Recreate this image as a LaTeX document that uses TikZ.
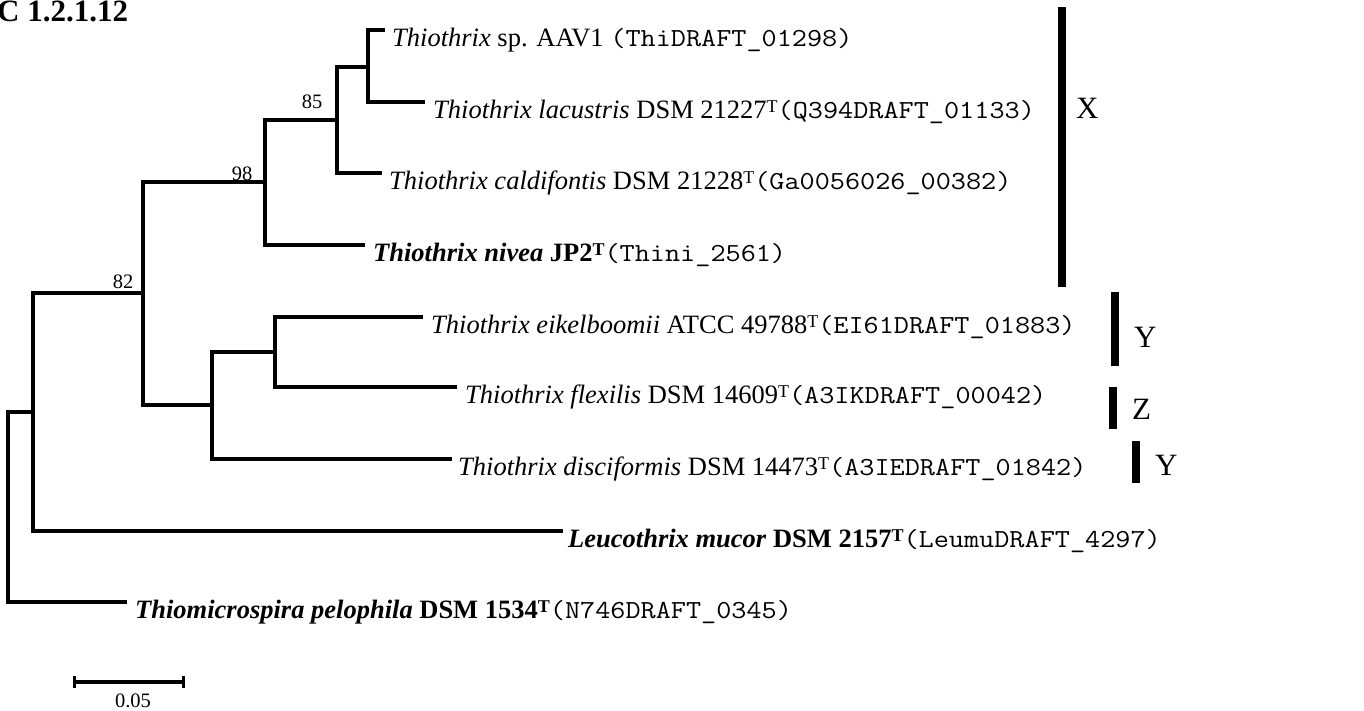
\documentclass[tikz,border=0pt]{standalone}
\usepackage{fontspec}
\usepackage{graphicx}
\setmainfont{Liberation Serif}
\usetikzlibrary{calc}
% superscript T marking a type strain, and a locus tag in a light monospace
\newcommand\tsT{\raisebox{6.5pt}{\fontsize{18}{18}\selectfont T}}
\newcommand\locus[1]{\scalebox{1.13}[1]{\fontsize{26}{30}\selectfont\ttfamily(#1)}}
\begin{document}
\begin{tikzpicture}[x=1pt,y=-1pt,
  branch/.style={line width=3.8pt,line join=miter},
  leaf/.style={anchor=base west,inner sep=0pt,font=\fontsize{26.5}{30}\selectfont},
  boot/.style={anchor=base,inner sep=0pt,font=\fontsize{20.5}{22}\selectfont},
  cladebar/.style={line width=8pt},
  clade/.style={anchor=base west,inner sep=0pt,font=\fontsize{31}{34}\selectfont}]
\useasboundingbox (0,0) rectangle (1364,710);

% panel title
\node[anchor=base west,inner sep=0pt,font=\fontsize{31}{34}\selectfont\bfseries] (title) at (-3,21) {C 1.2.1.12};

% internal nodes
\coordinate (root) at (8,507);
\coordinate (nA) at (33,412);
\coordinate (n82) at (143,293);
\coordinate (n98) at (265,182);
\coordinate (n85) at (337,120);
\coordinate (nE) at (368,67);
\coordinate (nC) at (212,405);
\coordinate (nD) at (275,352);

% branch tips
\coordinate (tAAV) at (385,30);
\coordinate (tlac) at (425,102);
\coordinate (tcal) at (382,173);
\coordinate (tniv) at (365,245);
\coordinate (teik) at (423,317);
\coordinate (tfle) at (457,387);
\coordinate (tdis) at (452,459);
\coordinate (tleu) at (563,531);
\coordinate (tpel) at (127,602);

% branches
\draw[branch] (root) |- (nA);
\draw[branch] (root) |- (tpel);
\draw[branch] (nA) |- (n82);
\draw[branch] (nA) |- (tleu);
\draw[branch] (n82) |- (n98);
\draw[branch] (n82) |- (nC);
\draw[branch] (n98) |- (n85);
\draw[branch] (n98) |- (tniv);
\draw[branch] (n85) |- (nE);
\draw[branch] (n85) |- (tcal);
\draw[branch] (nE) |- (tAAV);
\draw[branch] (nE) |- (tlac);
\draw[branch] (nC) |- (nD);
\draw[branch] (nC) |- (tdis);
\draw[branch] (nD) |- (teik);
\draw[branch] (nD) |- (tfle);

% bootstrap values
\node[boot] (b82) at (123,288) {82};
\node[boot] (b98) at (242,180) {98};
\node[boot] (b85) at (312,108) {85};

% taxon labels
\node[leaf] (lAAV) at ($(tAAV)+(7,16.5)$) {\textit{Thiothrix} sp. AAV1 \locus{ThiDRAFT\_01298}};
\node[leaf] (llac) at ($(tlac)+(8,16.5)$) {\textit{Thiothrix lacustris} DSM 21227\tsT\locus{Q394DRAFT\_01133}};
\node[leaf] (lcal) at ($(tcal)+(7,16.5)$) {\textit{Thiothrix caldifontis} DSM 21228\tsT\locus{Ga0056026\_00382}};
\node[leaf] (lniv) at ($(tniv)+(8,16.5)$) {\textbf{\textit{Thiothrix nivea} JP2\tsT}\locus{Thini\_2561}};
\node[leaf] (leik) at ($(teik)+(8,16.5)$) {\textit{Thiothrix eikelboomii} ATCC 49788\tsT\locus{EI61DRAFT\_01883}};
\node[leaf] (lfle) at ($(tfle)+(8,16.5)$) {\textit{Thiothrix flexilis} DSM 14609\tsT\locus{A3IKDRAFT\_00042}};
\node[leaf] (ldis) at ($(tdis)+(6,16.5)$) {\textit{Thiothrix disciformis} DSM 14473\tsT\locus{A3IEDRAFT\_01842}};
\node[leaf] (lleu) at ($(tleu)+(5,16.5)$) {\textbf{\textit{Leucothrix mucor} DSM 2157\tsT}\locus{LeumuDRAFT\_4297}};
\node[leaf] (lpel) at ($(tpel)+(8,16.5)$) {\textbf{\textit{Thiomicrospira pelophila} DSM 1534\tsT}\locus{N746DRAFT\_0345}};

% clade bars
\coordinate (xa) at (1062,7);   \coordinate (xb) at (1062,287);
\coordinate (ya) at (1115,292); \coordinate (yb) at (1115,366);
\coordinate (za) at (1113,387); \coordinate (zb) at (1113,429);
\coordinate (wa) at (1136,441); \coordinate (wb) at (1136,483);
\draw[cladebar] (xa) -- (xb);
\draw[cladebar] (ya) -- (yb);
\draw[cladebar] (za) -- (zb);
\draw[cladebar] (wa) -- (wb);
\node[clade] (cX) at (1076,118) {X};
\node[clade] (cY) at (1134,347) {Y};
\node[clade] (cZ) at (1132,419) {Z};
\node[clade] (cW) at (1155,475) {Y};

% scale bar
\coordinate (s1) at (74,682);
\coordinate (s2) at (183,682);
\draw[line width=3.8pt] (s1) -- (s2);
\draw[line width=3pt] ($(s1)+(0,-6)$) -- ($(s1)+(0,6)$);
\draw[line width=3pt] ($(s2)+(0,-6)$) -- ($(s2)+(0,6)$);
\node[boot] (slab) at (133,707) {0.05};
\end{tikzpicture}
\end{document}
